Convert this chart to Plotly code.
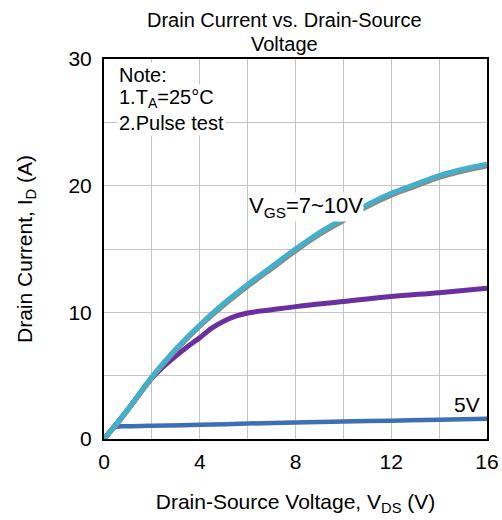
import plotly.graph_objects as go

vds = [0, 0.5, 1, 2, 3, 4, 5, 6, 7, 8, 9, 10, 11, 12, 13, 14, 15, 16]
id_7_10v = [0, 1.15, 2.35, 4.9, 7.1, 9.0, 10.7, 12.2, 13.6, 15.0, 16.3, 17.4, 18.5, 19.4, 20.1, 20.8, 21.3, 21.7]
id_7v_edge = [0, 1.1, 2.3, 4.85, 7.0, 8.9, 10.55, 12.05, 13.45, 14.85, 16.15, 17.25, 18.35, 19.25, 19.95, 20.65, 21.15, 21.55]

vds_6v = [0, 1, 2, 2.5, 3, 3.5, 4, 4.5, 5, 5.5, 6, 7, 8, 10, 12, 14, 16]
id_6v = [0, 2.35, 4.8, 5.75, 6.55, 7.3, 8.0, 8.75, 9.3, 9.7, 9.95, 10.2, 10.45, 10.85, 11.25, 11.55, 11.9]

vds_5v = [0, 0.15, 0.3, 0.5, 1, 2, 4, 6, 8, 10, 12, 14, 16]
id_5v = [0, 0.35, 0.7, 0.95, 1.0, 1.05, 1.12, 1.22, 1.3, 1.38, 1.45, 1.52, 1.6]

x_ticks = [0, 4, 8, 12, 16]
y_ticks = [0, 10, 20, 30]

fig = go.Figure()
fig.add_trace(go.Scatter(x=vds_5v, y=id_5v, mode="lines",
                         line=dict(color="#3d6fb6", width=4.5, shape="spline"), name="5V"))
fig.add_trace(go.Scatter(x=vds_6v, y=id_6v, mode="lines",
                         line=dict(color="#6b2fa0", width=5, shape="spline"), name="6V"))
fig.add_trace(go.Scatter(x=vds, y=id_7v_edge, mode="lines",
                         line=dict(color="#8c8a7c", width=5, shape="spline"), name="7V"))
fig.add_trace(go.Scatter(x=vds, y=id_7_10v, mode="lines",
                         line=dict(color="#43afcb", width=5, shape="spline"), name="7~10V"))

font = "Liberation Sans, Arial, sans-serif"

ann = []
# title (two lines)
ann.append(dict(text="Drain Current vs. Drain-Source", xref="paper", yref="paper",
                x=0.47, y=1.1026, xanchor="center", yanchor="middle", showarrow=False,
                font=dict(family=font, size=20, color="black")))
ann.append(dict(text="Voltage", xref="paper", yref="paper",
                x=0.47, y=1.039, xanchor="center", yanchor="middle", showarrow=False,
                font=dict(family=font, size=20, color="black")))

note_lines = [("Note:", 0.958), ("1.T<sub>A</sub>=25°C", 0.895), ("2.Pulse test", 0.832)]
for txt, yy in note_lines:
    ann.append(dict(text=txt, xref="paper", yref="paper", x=0.034, y=yy,
                    xanchor="left", yanchor="middle", showarrow=False,
                    bgcolor="white", borderpad=1,
                    font=dict(family=font, size=20, color="black")))
ann.append(dict(text="V<sub>GS</sub>=7~10V", xref="x", yref="y", x=6.0, y=18.3,
                xanchor="left", yanchor="middle", showarrow=False, bgcolor="white",
                borderpad=0, font=dict(family=font, size=22, color="black")))
ann.append(dict(text="5V", xref="x", yref="y", x=15.8, y=2.7,
                xanchor="right", yanchor="middle", showarrow=False,
                font=dict(family=font, size=21, color="black")))

fig.update_layout(
    width=502, height=520,
    margin=dict(l=104, r=15, t=59, b=81),
    paper_bgcolor="white", plot_bgcolor="white",
    showlegend=False,
    annotations=ann,
    font=dict(family=font, color="black"),
)
fig.update_xaxes(range=[0, 16], tickvals=x_ticks, ticktext=[str(v) for v in x_ticks],
                 automargin=False,
                 showgrid=True, gridcolor="#c4c4c4", gridwidth=1,
                 minor=dict(dtick=2, showgrid=True, gridcolor="#c4c4c4", gridwidth=1),
                 showline=True, linecolor="black", linewidth=2, mirror=True,
                 ticks="outside", ticklen=3, tickcolor="rgba(0,0,0,0)",
                 tickfont=dict(family=font, size=21, color="black"),
                 title=dict(text="Drain-Source Voltage, V<sub>DS</sub> (V)", standoff=22,
                            font=dict(family=font, size=21, color="black")),
                 zeroline=False)
fig.update_yaxes(range=[0, 30], tickvals=y_ticks, ticktext=[str(v) for v in y_ticks],
                 automargin=False,
                 showgrid=True, gridcolor="#c4c4c4", gridwidth=1,
                 minor=dict(dtick=5, showgrid=True, gridcolor="#c4c4c4", gridwidth=1),
                 showline=True, linecolor="black", linewidth=2, mirror=True,
                 ticks="outside", ticklen=6, tickcolor="rgba(0,0,0,0)",
                 tickfont=dict(family=font, size=21, color="black"),
                 title=dict(text="Drain Current, I<sub>D</sub> (A)", standoff=30,
                            font=dict(family=font, size=21, color="black")),
                 zeroline=False)

# remove the default 8px page margin so the 502x520 figure fills the window exactly
fig.write_html("out.html", config={"displayModeBar": False},
               post_script="document.body.style.margin='0';document.body.style.overflow='hidden';")
